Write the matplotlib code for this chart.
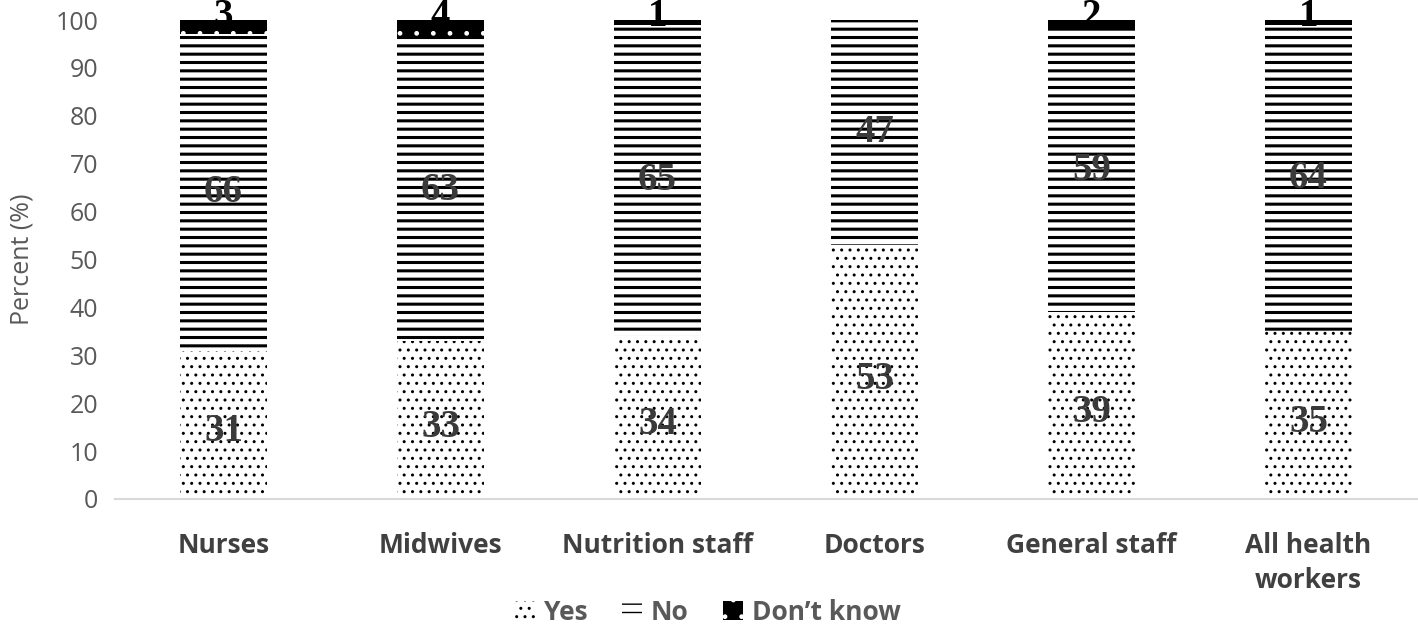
import matplotlib.pyplot as plt
from matplotlib.patches import Patch
import numpy as np

# Data
groups = ['Nurses', 'Midwives', 'Nutrition staff', 'Doctors', 'General staff', 'All health\nworkers']
yes = [31, 33, 34, 53, 39, 35]
no = [66, 63, 65, 47, 59, 64]
dont_know = [3, 4, 1, 0, 2, 1]


def set_hw(patches, lw):
    for p in patches:
        if hasattr(p, 'set_hatch_linewidth'):
            p.set_hatch_linewidth(lw)


fig = plt.figure(figsize=(14.18, 6.26), dpi=100)
ax = fig.add_axes([115 / 1418, 1 - 499 / 626, 1302 / 1418, 479 / 626])

x = np.arange(len(groups))
w = 0.405

plt.rcParams['hatch.linewidth'] = 1.0
b1 = ax.bar(x, yes, w, facecolor='white', edgecolor='black', hatch='..', linewidth=0)
set_hw(b1, 1.0)
plt.rcParams['hatch.linewidth'] = 2.2
b2 = ax.bar(x, no, w, bottom=yes, facecolor='white', edgecolor='black', hatch='--', linewidth=0)
set_hw(b2, 2.2)
bottom2 = [a + b for a, b in zip(yes, no)]
plt.rcParams['hatch.linewidth'] = 1.0
b3 = ax.bar(x, dont_know, w, bottom=bottom2, facecolor='black', edgecolor='white', hatch='.', linewidth=0)
set_hw(b3, 1.0)

# value labels
lab = dict(ha='center', va='center', fontsize=28, fontweight='bold',
           family='Liberation Serif', color='#3a3a3a')
for i in range(len(groups)):
    ax.text(x[i], yes[i] / 2 - 1.5, str(yes[i]), **lab)
    ax.text(x[i], yes[i] + no[i] / 2, str(no[i]), **lab)
    if dont_know[i] > 0:
        ax.text(x[i], 100.8, str(dont_know[i]), ha='center', va='center', fontsize=28,
                fontweight='bold', family='Liberation Serif', color='black')

ax.set_xlim(-0.5, 5.5)
ax.set_ylim(0, 100)
ax.set_yticks(range(0, 101, 10))
ax.set_xticks(x)
ax.set_xticklabels(groups, fontsize=19, fontweight='bold', color='#404040',
                   family='Open Sans', linespacing=1.35)
for t in ax.get_yticklabels():
    t.set_fontsize(18)
    t.set_color('#595959')
    t.set_family('Open Sans')
ax.tick_params(length=0, pad=12)
ax.tick_params(axis='x', pad=24)
for s in ['top', 'right', 'left']:
    ax.spines[s].set_visible(False)
ax.spines['bottom'].set_color('#d9d9d9')
ax.spines['bottom'].set_linewidth(1.5)
ax.set_ylabel('Percent (%)', fontsize=18, color='#595959', family='Open Sans', labelpad=15)

handles = [
    Patch(facecolor='white', edgecolor='black', hatch='..', linewidth=0, label='Yes'),
    Patch(facecolor='white', edgecolor='black', hatch='--', linewidth=0, label='No'),
    Patch(facecolor='black', edgecolor='white', hatch='.', linewidth=0, label='Don\u2019t know'),
]
leg = fig.legend(handles=handles, loc='center', bbox_to_anchor=(708 / 1418, 1 - 612 / 626), ncol=3,
                 frameon=False, handlelength=0.75, handleheight=0.75, handletextpad=0.35,
                 columnspacing=1.3, prop={'family': 'Open Sans', 'weight': 'bold', 'size': 19})
for t in leg.get_texts():
    t.set_color('#595959')

fig.savefig('out.png', dpi=100)
